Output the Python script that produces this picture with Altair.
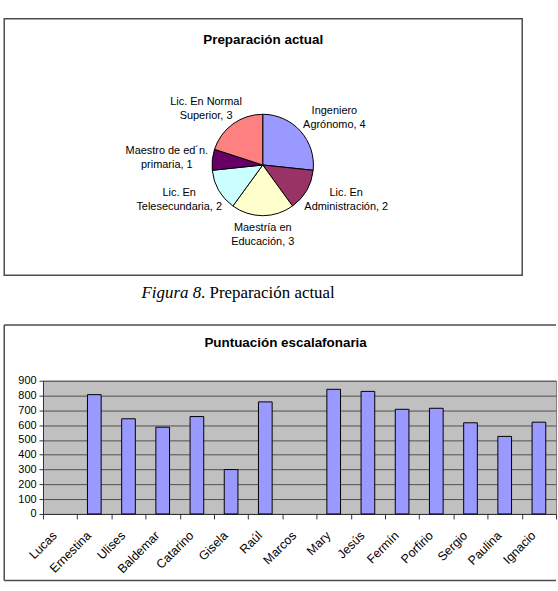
import altair as alt
import pandas as pd

# ---------------- data ----------------
pie_title = "Preparación actual"
prep_cats = ["Ingeniero\nAgrónomo", "Lic. En\nAdministración", "Maestría en\nEducación",
             "Lic. En\nTelesecundaria", "Maestro de ed´n.\nprimaria", "Lic. En Normal\nSuperior"]
prep_counts = [4, 2, 3, 2, 1, 3]
prep_colors = ["#9999FF", "#993366", "#FFFFCC", "#CCFFFF", "#660066", "#FF8080"]

caption_italic = "Figura 8"
caption_rest = ". Preparación actual"

bar_title = "Puntuación escalafonaria"
names = ["Lucas", "Ernestina", "Ulises", "Baldemar", "Catarino", "Gisela", "Raúl", "Marcos",
         "Mary", "Jesús", "Fermín", "Porfirio", "Sergio", "Paulina", "Ignacio"]
scores = [None, 806, 643, 586, 658, 300, 757, None, 842, 828, 707, 714, 616, 524, 620]
y_ticks = [0, 100, 200, 300, 400, 500, 600, 700, 800, 900]

# ---------------- styling ----------------
SANS = "Liberation Sans"
SERIF = "Liberation Serif"
FRAME = "#4d4d4d"

pie_df = pd.DataFrame({"cat": prep_cats, "value": prep_counts, "idx": list(range(len(prep_cats)))})
bar_df = pd.DataFrame({"name": names, "score": scores})
one = pd.DataFrame({"k": [0]})

TOP_W, TOP_H = 482, 258
CX, CY, R = 221, 147, 51
AX, BY, HALF_LINE = 97, 70, 7

frame_top = alt.Chart(one).mark_rect(fill="white", stroke=FRAME, strokeWidth=1.5).encode(
    x=alt.value(-39), x2=alt.value(TOP_W), y=alt.value(0), y2=alt.value(TOP_H))

title_top = alt.Chart(one).mark_text(text=pie_title, font=SANS, fontSize=13.5, fontWeight="bold",
                                     color="black", align="center", baseline="middle").encode(
    x=alt.value(221.5), y=alt.value(21))

arcs = alt.Chart(pie_df).mark_arc(radius=R, stroke="black", strokeWidth=1).encode(
    theta=alt.Theta("value:Q", stack=True),
    order=alt.Order("idx:Q"),
    color=alt.Color("cat:N", scale=alt.Scale(domain=prep_cats, range=prep_colors), legend=None),
    x=alt.value(CX), y=alt.value(CY))

labels = alt.Chart(pie_df).transform_joinaggregate(
    total="sum(value)"
).transform_window(
    cum="sum(value)", sort=[alt.SortField("idx")], frame=[None, 0]
).transform_calculate(
    mid="(datum.cum - datum.value / 2) / datum.total * 2 * PI",
    lx=f"{CX} + {AX} * sin(datum.mid)",
    ly=f"{CY} - {BY} * cos(datum.mid) - {HALF_LINE}",
    lab="datum.cat + ', ' + datum.value",
).mark_text(font=SANS, fontSize=11, lineBreak="\n", lineHeight=14, align="center",
            baseline="middle", color="black").encode(
    x=alt.X("lx:Q", scale=None, axis=None),
    y=alt.Y("ly:Q", scale=None, axis=None),
    text="lab:N")

CAP_X = 159
cap1 = alt.Chart(one).mark_text(text=caption_italic, font=SERIF, fontSize=17, fontStyle="italic",
                                align="right", baseline="middle", color="black").encode(
    x=alt.value(CAP_X), y=alt.value(276))
cap2 = alt.Chart(one).mark_text(text=caption_rest, font=SERIF, fontSize=17,
                                align="left", baseline="middle", color="black").encode(
    x=alt.value(CAP_X), y=alt.value(276))

top = alt.layer(frame_top, title_top, arcs, labels, cap1, cap2).properties(
    width=TOP_W, height=TOP_H, view=alt.ViewBackground(stroke="transparent"))

# ---------------- bar chart ----------------
BW, BH = 516, 134

bars = alt.Chart(bar_df).mark_bar(color="#9999FF", stroke="black", strokeWidth=1,
                                  width=alt.RelativeBandSize(0.4)).encode(
    x=alt.X("name:N", sort=names,
            scale=alt.Scale(domain=names, paddingInner=0, paddingOuter=0),
            axis=alt.Axis(title=None, labelAngle=-45, labelAlign="right", labelBaseline="top",
                          labelPadding=10, labelOffset=-10, labelFontSize=12.5, labelFont=SANS,
                          labelColor="black", labelOverlap=False, labelBound=False,
                          tickBand="extent", tickSize=5, tickColor="#333333",
                          domainColor="#333333", grid=False)),
    y=alt.Y("score:Q", scale=alt.Scale(domain=[0, 900], nice=False),
            axis=alt.Axis(title=None, values=y_ticks, grid=True, gridColor="#505050",
                          gridWidth=1, tickSize=4, tickColor="#333333", domainColor="#333333",
                          labelFontSize=11, labelFont=SANS, labelColor="black", labelPadding=3)))

title_bar = alt.Chart(one).mark_text(text=bar_title, font=SANS, fontSize=13.5, fontWeight="bold",
                                     color="black", align="center", baseline="middle").encode(
    x=alt.value(244), y=alt.value(-38))

rule_top = alt.Chart(one).mark_rule(color=FRAME, strokeWidth=1.5).encode(
    x=alt.value(-39), x2=alt.value(BW), y=alt.value(-56))
rule_bot = alt.Chart(one).mark_rule(color=FRAME, strokeWidth=1.5).encode(
    x=alt.value(-39), x2=alt.value(BW), y=alt.value(201))
rule_left = alt.Chart(one).mark_rule(color=FRAME, strokeWidth=1.5).encode(
    x=alt.value(-39), y=alt.value(-56), y2=alt.value(201))

bottom = alt.layer(bars, title_bar, rule_top, rule_bot, rule_left).properties(
    width=BW, height=BH, view=alt.ViewBackground(fill="#C0C0C0", stroke="#808080"))

chart = alt.vconcat(top, bottom, spacing=106, bounds="flush").properties(
    padding={"left": 2.25, "top": 15.25, "right": 0, "bottom": 0},
    background="white",
).configure_text(font=SANS)

chart.save("out.html", embed_options={"renderer": "svg", "actions": False})
